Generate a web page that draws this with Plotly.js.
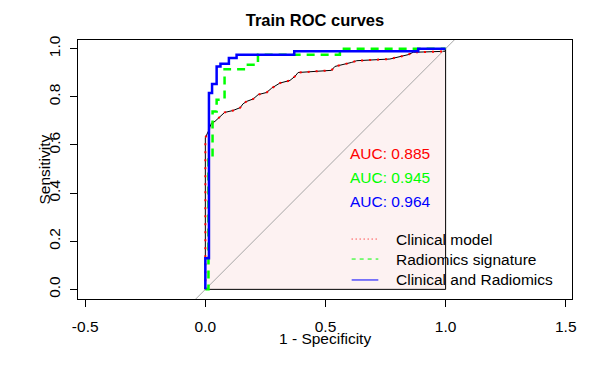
<!DOCTYPE html>
<html><head><meta charset="utf-8">
<script src="https://cdn.plot.ly/plotly-3.0.1.min.js"></script>
<style>html,body{margin:0;padding:0;background:#fff}#chart{width:613px;height:378px}</style>
</head><body><div id="chart"></div>
<script>
// Clinical model (1 - specificity, sensitivity)
const clinicalFPR = [0, 0, 0.012, 0.025, 0.04, 0.06, 0.08, 0.115, 0.145, 0.157, 0.172, 0.199, 0.22, 0.255, 0.276, 0.31, 0.352, 0.373, 0.386, 0.525, 0.539, 0.609, 0.63, 0.768, 0.823, 0.844, 0.865, 0.997, 1];
const clinicalTPR = [0, 0.63, 0.656, 0.69, 0.698, 0.717, 0.735, 0.743, 0.755, 0.771, 0.781, 0.791, 0.809, 0.818, 0.836, 0.857, 0.868, 0.885, 0.901, 0.91, 0.926, 0.943, 0.95, 0.957, 0.968, 0.975, 0.985, 0.989, 1];
// Radiomics signature
const radiomicsFPR = [0, 0.013, 0.013, 0.03, 0.03, 0.047, 0.047, 0.08, 0.08, 0.177, 0.177, 0.219, 0.219, 0.56, 0.56, 1];
const radiomicsTPR = [0, 0, 0.54, 0.54, 0.739, 0.739, 0.788, 0.788, 0.915, 0.915, 0.933, 0.933, 0.975, 0.975, 1, 1];
// Clinical and Radiomics
const combinedFPR = [0, 0, 0.015, 0.015, 0.028, 0.028, 0.047, 0.047, 0.063, 0.063, 0.098, 0.098, 0.13, 0.13, 0.37, 0.37, 0.886, 0.886, 1];
const combinedTPR = [0, 0.129, 0.129, 0.816, 0.816, 0.853, 0.853, 0.926, 0.926, 0.937, 0.937, 0.961, 0.961, 0.975, 0.975, 0.989, 0.989, 1, 1];

const aucLabels = ["AUC: 0.885", "AUC: 0.945", "AUC: 0.964"];
const seriesNames = ["Clinical model", "Radiomics signature", "Clinical and Radiomics"];
const seriesColors = ["#FF0000", "#00FF00", "#0000FF"];
const xTickVals = [-0.5, 0, 0.5, 1, 1.5];
const xTickText = ["-0.5", "0.0", "0.5", "1.0", "1.5"];
const yTickVals = [0, 0.2, 0.4, 0.6, 0.8, 1];
const yTickText = ["0.0", "0.2", "0.4", "0.6", "0.8", "1.0"];
const diagX = [-0.6, 1.6];

const FONT = "Liberation Sans, Arial, sans-serif";
const FS = 15.5;

const traces = [
  { x: clinicalFPR.concat([1, 0]), y: clinicalTPR.concat([0, 0]), mode: "lines", fill: "toself",
    fillcolor: "#FDF2F2", line: { color: "#000", width: 1 }, hoverinfo: "skip", showlegend: false },
  { x: diagX, y: diagX, mode: "lines", line: { color: "#A6A6A6", width: 1 }, showlegend: false },
  { x: clinicalFPR, y: clinicalTPR, mode: "lines", line: { color: seriesColors[0], width: 2, dash: "2px,6px" }, showlegend: false },
  { x: radiomicsFPR, y: radiomicsTPR, mode: "lines", line: { color: seriesColors[1], width: 2.5, dash: "8px,6px" }, showlegend: false },
  { x: combinedFPR, y: combinedTPR, mode: "lines", line: { color: seriesColors[2], width: 2.5 }, showlegend: false }
];

const aucY = [0.566, 0.466, 0.366];
const legY = [0.209, 0.126, 0.039];
const legDash = ["1px,3px", "4px,4px", "solid"];

const annotations = [];
const shapes = [];
aucLabels.forEach((t, i) => annotations.push({
  x: 0.598, y: aucY[i], xref: "x", yref: "y", text: t, showarrow: false, xanchor: "left", yanchor: "middle",
  borderpad: 0, font: { family: FONT, size: FS, color: seriesColors[i] }
}));
seriesNames.forEach((t, i) => {
  shapes.push({ type: "line", xref: "x", yref: "y", x0: 0.609, x1: 0.72, y0: legY[i], y1: legY[i],
    line: { color: seriesColors[i], width: 1, dash: legDash[i] } });
  annotations.push({ x: 0.79, y: legY[i], xref: "x", yref: "y", text: t, showarrow: false, xanchor: "left",
    yanchor: "middle", borderpad: 0, font: { family: FONT, size: FS, color: "#000" } });
});
annotations.push({ x: 0.5, y: -0.1506, xref: "paper", yref: "paper", text: "1 - Specificity", showarrow: false,
  xanchor: "center", yanchor: "middle", font: { family: FONT, size: FS, color: "#000" } });
annotations.push({ x: -0.0688, y: 0.5, xref: "paper", yref: "paper", text: "Sensitivity", showarrow: false,
  textangle: -90, xanchor: "center", yanchor: "middle", font: { family: FONT, size: FS, color: "#000" } });

const axisCommon = { showgrid: false, zeroline: false, showline: true, mirror: true, linecolor: "#000", linewidth: 1,
  ticks: "outside", ticklen: 7, tickcolor: "#000", tickwidth: 1, tickfont: { family: FONT, size: FS, color: "#000" } };

const layout = {
  width: 613, height: 378,
  margin: { l: 78, r: 41, t: 40, b: 79 },
  paper_bgcolor: "#fff", plot_bgcolor: "#fff",
  title: { text: "<b>Train ROC curves</b>", x: 315 / 613, xref: "container", xanchor: "center",
    y: 1 - 20 / 378, yref: "container", yanchor: "middle", font: { family: FONT, size: 16.5, color: "#000" } },
  xaxis: Object.assign({}, axisCommon, { range: [-0.53, 1.526], tickvals: xTickVals, ticktext: xTickText, ticklabelstandoff: 6 }),
  yaxis: Object.assign({}, axisCommon, { range: [-0.04, 1.036], tickvals: yTickVals, ticktext: yTickText, tickangle: -90, ticklabelstandoff: 4 }),
  annotations: annotations, shapes: shapes, showlegend: false
};

Plotly.newPlot("chart", traces, layout, { staticPlot: true, displayModeBar: false });
</script>
</body></html>
